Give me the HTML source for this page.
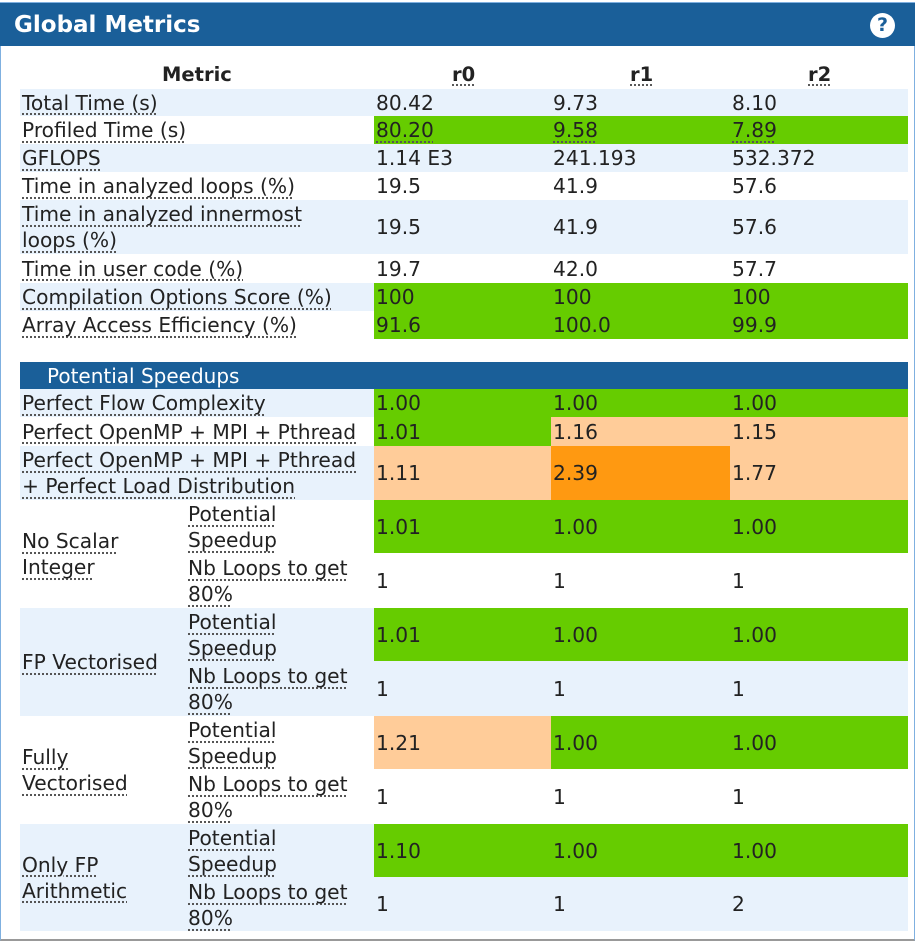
<!DOCTYPE html>
<html><head><meta charset="utf-8"><style>
body{margin:0;width:915px;height:941px;background:#fff;font-family:"DejaVu Sans","Liberation Sans",sans-serif;font-size:20.2px;color:#222;position:relative;overflow:hidden}
.panel{position:absolute;left:0;top:2px;width:913px;height:936px;border:1px solid #7fb0e0;border-bottom:2px solid #999}
.hd{position:absolute;left:0;top:3px;width:915px;height:43px;background:#1a5f99;color:#fff;font-weight:bold;font-size:23px;line-height:45px;}
.hd span{position:absolute;left:14px}
.q{position:absolute;left:870px;top:10px;width:25px;height:25px;border-radius:50%;background:#fff;color:#1a5f99;font-size:19px;line-height:25px;text-align:center;font-weight:bold}
.c{position:absolute;display:flex;align-items:center;padding-left:2px;box-sizing:border-box;line-height:26px;white-space:nowrap}
.u{text-decoration:underline dotted #555;text-underline-offset:4px}
.bl{background:#e8f2fc}.g{background:#66cc00}.p{background:#ffcc99}.o{background:#ff9911}
.sec{position:absolute;left:20px;top:362px;width:888px;height:27px;background:#1a5f99;color:#fff;font-size:20px;line-height:28px}
.th{position:absolute;font-weight:bold;font-size:19.5px;top:62px;height:26px;line-height:26px}
</style></head><body>
<div class="panel"></div>
<div class="hd"><span>Global Metrics</span><div class="q">?</div></div>
<div class="th" style="left:162px">Metric</div>
<div class="th u" style="left:452px">r0</div>
<div class="th u" style="left:630px">r1</div>
<div class="th u" style="left:808px">r2</div>

<div class="c bl" style="left:20px;top:89px;width:888px;height:27px"></div>
<div class="c" style="left:20px;top:89px;width:353px;height:27px"><span class="u">Total Time (s)</span></div>
<div class="c" style="left:374px;top:89px;width:177px;height:27px">80.42</div>
<div class="c" style="left:551px;top:89px;width:179px;height:27px">9.73</div>
<div class="c" style="left:730px;top:89px;width:178px;height:27px">8.10</div>

<div class="c" style="left:20px;top:116px;width:353px;height:28px"><span class="u">Profiled Time (s)</span></div>
<div class="c g" style="left:374px;top:116px;width:177px;height:28px"><span class="u">80.20</span></div>
<div class="c g" style="left:551px;top:116px;width:179px;height:28px"><span class="u">9.58</span></div>
<div class="c g" style="left:730px;top:116px;width:178px;height:28px"><span class="u">7.89</span></div>

<div class="c bl" style="left:20px;top:144px;width:888px;height:28px"></div>
<div class="c" style="left:20px;top:144px;width:353px;height:28px"><span class="u">GFLOPS</span></div>
<div class="c" style="left:374px;top:144px;width:177px;height:28px">1.14 E3</div>
<div class="c" style="left:551px;top:144px;width:179px;height:28px">241.193</div>
<div class="c" style="left:730px;top:144px;width:178px;height:28px">532.372</div>

<div class="c" style="left:20px;top:172px;width:353px;height:28px"><span class="u">Time in analyzed loops (%)</span></div>
<div class="c" style="left:374px;top:172px;width:177px;height:28px">19.5</div>
<div class="c" style="left:551px;top:172px;width:179px;height:28px">41.9</div>
<div class="c" style="left:730px;top:172px;width:178px;height:28px">57.6</div>

<div class="c bl" style="left:20px;top:200px;width:888px;height:54px"></div>
<div class="c" style="left:20px;top:200px;width:353px;height:54px"><span class="u">Time in analyzed innermost<br>loops (%)</span></div>
<div class="c" style="left:374px;top:200px;width:177px;height:54px">19.5</div>
<div class="c" style="left:551px;top:200px;width:179px;height:54px">41.9</div>
<div class="c" style="left:730px;top:200px;width:178px;height:54px">57.6</div>

<div class="c" style="left:20px;top:254px;width:353px;height:29px"><span class="u">Time in user code (%)</span></div>
<div class="c" style="left:374px;top:254px;width:177px;height:29px">19.7</div>
<div class="c" style="left:551px;top:254px;width:179px;height:29px">42.0</div>
<div class="c" style="left:730px;top:254px;width:178px;height:29px">57.7</div>

<div class="c bl" style="left:20px;top:283px;width:354px;height:28px"><span class="u">Compilation Options Score (%)</span></div>
<div class="c g" style="left:374px;top:283px;width:177px;height:28px">100</div>
<div class="c g" style="left:551px;top:283px;width:179px;height:28px">100</div>
<div class="c g" style="left:730px;top:283px;width:178px;height:28px">100</div>

<div class="c" style="left:20px;top:311px;width:353px;height:28px"><span class="u">Array Access Efficiency (%)</span></div>
<div class="c g" style="left:374px;top:311px;width:177px;height:28px">91.6</div>
<div class="c g" style="left:551px;top:311px;width:179px;height:28px">100.0</div>
<div class="c g" style="left:730px;top:311px;width:178px;height:28px">99.9</div>

<div class="sec"><span style="margin-left:27px">Potential Speedups</span></div>

<div class="c bl" style="left:20px;top:389px;width:354px;height:28px"><span class="u">Perfect Flow Complexity</span></div>
<div class="c g" style="left:374px;top:389px;width:177px;height:28px">1.00</div>
<div class="c g" style="left:551px;top:389px;width:179px;height:28px">1.00</div>
<div class="c g" style="left:730px;top:389px;width:178px;height:28px">1.00</div>

<div class="c" style="left:20px;top:417px;width:354px;height:29px"><span class="u">Perfect OpenMP + MPI + Pthread</span></div>
<div class="c g" style="left:374px;top:417px;width:177px;height:29px">1.01</div>
<div class="c p" style="left:551px;top:417px;width:179px;height:29px">1.16</div>
<div class="c p" style="left:730px;top:417px;width:178px;height:29px">1.15</div>

<div class="c bl" style="left:20px;top:446px;width:354px;height:54px"><span class="u">Perfect OpenMP + MPI + Pthread<br>+ Perfect Load Distribution</span></div>
<div class="c p" style="left:374px;top:446px;width:177px;height:54px">1.11</div>
<div class="c o" style="left:551px;top:446px;width:179px;height:54px">2.39</div>
<div class="c p" style="left:730px;top:446px;width:178px;height:54px">1.77</div>

<div class="c" style="left:20px;top:500px;width:168px;height:108px"><span class="u">No Scalar<br>Integer</span></div>
<div class="c" style="left:186px;top:500px;width:188px;height:54px"><span class="u">Potential<br>Speedup</span></div>
<div class="c" style="left:186px;top:554px;width:188px;height:54px"><span class="u">Nb Loops to get<br>80%</span></div>
<div class="c g" style="left:374px;top:500px;width:177px;height:53px">1.01</div>
<div class="c g" style="left:551px;top:500px;width:179px;height:53px">1.00</div>
<div class="c g" style="left:730px;top:500px;width:178px;height:53px">1.00</div>
<div class="c" style="left:374px;top:553px;width:177px;height:55px">1</div>
<div class="c" style="left:551px;top:553px;width:179px;height:55px">1</div>
<div class="c" style="left:730px;top:553px;width:178px;height:55px">1</div>

<div class="c bl" style="left:20px;top:608px;width:888px;height:108px"></div>
<div class="c" style="left:20px;top:608px;width:168px;height:108px"><span class="u">FP Vectorised</span></div>
<div class="c" style="left:186px;top:608px;width:188px;height:54px"><span class="u">Potential<br>Speedup</span></div>
<div class="c" style="left:186px;top:662px;width:188px;height:54px"><span class="u">Nb Loops to get<br>80%</span></div>
<div class="c g" style="left:374px;top:608px;width:177px;height:53px">1.01</div>
<div class="c g" style="left:551px;top:608px;width:179px;height:53px">1.00</div>
<div class="c g" style="left:730px;top:608px;width:178px;height:53px">1.00</div>
<div class="c" style="left:374px;top:661px;width:177px;height:55px">1</div>
<div class="c" style="left:551px;top:661px;width:179px;height:55px">1</div>
<div class="c" style="left:730px;top:661px;width:178px;height:55px">1</div>

<div class="c" style="left:20px;top:716px;width:168px;height:108px"><span class="u">Fully<br>Vectorised</span></div>
<div class="c" style="left:186px;top:716px;width:188px;height:54px"><span class="u">Potential<br>Speedup</span></div>
<div class="c" style="left:186px;top:770px;width:188px;height:54px"><span class="u">Nb Loops to get<br>80%</span></div>
<div class="c p" style="left:374px;top:716px;width:177px;height:53px">1.21</div>
<div class="c g" style="left:551px;top:716px;width:179px;height:53px">1.00</div>
<div class="c g" style="left:730px;top:716px;width:178px;height:53px">1.00</div>
<div class="c" style="left:374px;top:769px;width:177px;height:55px">1</div>
<div class="c" style="left:551px;top:769px;width:179px;height:55px">1</div>
<div class="c" style="left:730px;top:769px;width:178px;height:55px">1</div>

<div class="c bl" style="left:20px;top:824px;width:888px;height:107px"></div>
<div class="c" style="left:20px;top:824px;width:168px;height:107px"><span class="u">Only FP<br>Arithmetic</span></div>
<div class="c" style="left:186px;top:824px;width:188px;height:54px"><span class="u">Potential<br>Speedup</span></div>
<div class="c" style="left:186px;top:878px;width:188px;height:54px"><span class="u">Nb Loops to get<br>80%</span></div>
<div class="c g" style="left:374px;top:824px;width:177px;height:53px">1.10</div>
<div class="c g" style="left:551px;top:824px;width:179px;height:53px">1.00</div>
<div class="c g" style="left:730px;top:824px;width:178px;height:53px">1.00</div>
<div class="c" style="left:374px;top:877px;width:177px;height:54px">1</div>
<div class="c" style="left:551px;top:877px;width:179px;height:54px">1</div>
<div class="c" style="left:730px;top:877px;width:178px;height:54px">2</div>
</body></html>
